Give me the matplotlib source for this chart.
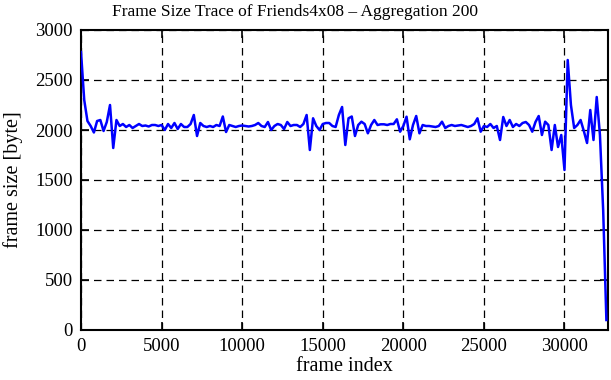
from matplotlib import pyplot as plt
import numpy as np

AGGREGATION = 200

# mean frame size per block of 200 frames
frame_sizes = [
    2780, 2300, 2090, 2040, 1975, 2090, 2100, 1990, 2080, 2250,
    1820, 2100, 2040, 2060, 2030, 2050, 2020, 2040, 2060, 2040,
    2045, 2035, 2050, 2050, 2040, 2050, 2000, 2060, 2020, 2070,
    2010, 2060, 2030, 2030, 2060, 2150, 1940, 2070, 2040, 2030,
    2040, 2030, 2050, 2040, 2135, 1980, 2050, 2040, 2030, 2040,
    2045, 2040, 2035, 2040, 2050, 2070, 2040, 2030, 2080, 2000,
    2040, 2060, 2050, 2010, 2080, 2040, 2050, 2050, 2030, 2060,
    2150, 1800, 2117, 2040, 2000, 2060, 2070, 2070, 2040, 2030,
    2150, 2230, 1850, 2117, 2135, 1940, 2050, 2083, 2060, 1967,
    2050, 2100, 2050, 2057, 2057, 2050, 2060, 2060, 2107, 1983,
    2040, 2133, 1907, 2050, 2140, 1967, 2050, 2040, 2040, 2035,
    2030, 2040, 2083, 2020, 2040, 2050, 2040, 2045, 2050, 2040,
    2030, 2040, 2060, 2117, 1983, 2040, 2030, 2060, 2020, 2040,
    1900, 2130, 2040, 2100, 2030, 2060, 2040, 2070, 2080, 2050,
    1983, 2080, 2140, 1950, 2083, 2050, 1800, 2050, 1830, 1950,
    1600, 2700, 2250, 2020, 2050, 2100, 1990, 1870, 2200, 1900,
    2330, 1950, 1200, 100,
]
frame_index = np.arange(len(frame_sizes)) * AGGREGATION

x_ticks = [0, 5000, 10000, 15000, 20000, 25000, 30000]
y_ticks = [0, 500, 1000, 1500, 2000, 2500, 3000]

plt.rcParams["font.family"] = ["Liberation Serif", "DejaVu Serif"]
plt.rcParams["font.size"] = 13.5

fig = plt.figure(figsize=(6.11, 3.8), dpi=100)
ax = fig.add_axes([81 / 611, 50 / 380, 527 / 611, 300 / 380])

ax.plot(frame_index, frame_sizes, color="#0000ff", linewidth=1.8, zorder=3)

ax.set_xlim(0, 32700)
ax.set_ylim(0, 3000)
ax.set_xticks(x_ticks)
ax.set_yticks(y_ticks)
ax.grid(True, color="black", linestyle=(0, (6, 4)), linewidth=0.9)

ax.tick_params(direction="in", length=6, width=1.2, top=True, right=True,
               pad=6, colors="black", labelsize=13.5)
for spine in ax.spines.values():
    spine.set_linewidth(1.5)

ax.set_xlabel("frame index", fontsize=14.5, labelpad=1)
ax.set_ylabel("frame size [byte]", fontsize=14.5, labelpad=9)
fig.text(295 / 611, 1 - 12 / 380, "Frame Size Trace of Friends4x08 \u2013 Aggregation 200",
         ha="center", va="center", fontsize=12.5)

fig.savefig("out.png", dpi=100)
